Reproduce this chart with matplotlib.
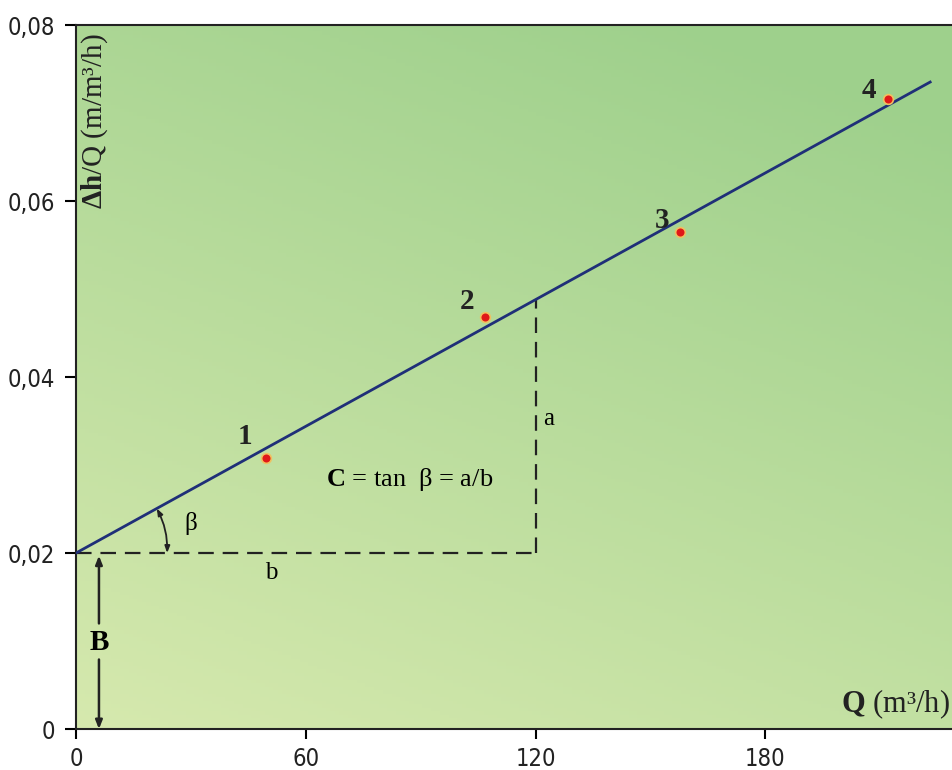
import matplotlib
matplotlib.use("Agg")
import matplotlib.pyplot as plt
import numpy as np

plt.rcParams['mathtext.fontset'] = 'custom'
plt.rcParams['mathtext.rm'] = 'Liberation Serif'
plt.rcParams['mathtext.bf'] = 'Liberation Serif:bold'
plt.rcParams['mathtext.it'] = 'Liberation Serif:italic'

# measured points (Q in m3/h, dh/Q)
q_points = [49.6, 106.8, 157.7, 212.0]
dhq_points = [0.0308, 0.0468, 0.0565, 0.0716]
point_labels = ['1', '2', '3', '4']
label_pos = [(44.0, 0.0332), (102.0, 0.0486), (153.0, 0.0578), (207.0, 0.0726)]

# fitted line dh/Q = B + C*Q
B = 0.02
C = 0.00024
line_q = [0, 223]

x_ticks = [0, 60, 120, 180]
y_ticks = [0, 0.02, 0.04, 0.06, 0.08]
y_ticklabels = ['0', '0,02', '0,04', '0,06', '0,08']

xmax = 228.7
serif = 'Liberation Serif'

fig = plt.figure(figsize=(9.52, 7.7), dpi=100)
ax = fig.add_axes([0.0798, 0.0532, 0.9202, 0.9143])
ax.set_xlim(0, xmax)
ax.set_ylim(0, 0.08)

# green gradient background
ny, nx = 200, 200
yy, xx = np.mgrid[0:1:ny*1j, 0:1:nx*1j]
t = np.clip(0.75 * yy + 0.35 * xx, 0, 1)
c0 = np.array([214, 233, 174]) / 255.0
c1 = np.array([158, 208, 140]) / 255.0
img = c0[None, None, :] * (1 - t[..., None]) + c1[None, None, :] * t[..., None]
ax.imshow(img, extent=[0, xmax, 0, 0.08], origin='lower', aspect='auto', zorder=0)

# fitted line
ax.plot(line_q, [B + C * q for q in line_q], color='#1f2f78', lw=2, zorder=3)

# measured points
ax.plot(q_points, dhq_points, 'o', color='#e01818', markersize=7,
        markeredgecolor='#f0c060', markeredgewidth=1.2, zorder=4)
for lab, (lx, ly) in zip(point_labels, label_pos):
    ax.text(lx, ly, lab, fontsize=21, fontweight='bold', family=serif,
            ha='center', va='center', color='#222222')

# triangle a / b
x_tri = 120
ax.plot([0, x_tri], [B, B], color='#222222', lw=1.6, ls=(0, (7, 4)), zorder=2)
ax.plot([x_tri, x_tri], [B, B + C * x_tri], color='#222222', lw=1.6, ls=(0, (7, 4)), zorder=2)
ax.text(123.5, 0.0352, 'a', fontsize=18, family=serif, ha='center', va='center')
ax.text(51, 0.0177, 'b', fontsize=18, family=serif, ha='center', va='center')
ax.text(87, 0.0283, r'$\mathbf{C}$ = tan  β = a/b', fontsize=19, family=serif,
        ha='center', va='center')

# angle beta
ax.annotate('', xy=(21.1, B + C * 21.1), xytext=(23.8, B),
            arrowprops=dict(arrowstyle='<|-|>,head_length=0.4,head_width=0.15',
                            color='#222222', lw=1.3,
                            connectionstyle='arc3,rad=0.13',
                            shrinkA=0, shrinkB=0))
ax.text(30, 0.0233, 'β', fontsize=18, family=serif, ha='center', va='center')

# intercept B
ax.annotate('', xy=(6, 0.0197), xytext=(6, 0.0120),
            arrowprops=dict(arrowstyle='-|>,head_length=0.5,head_width=0.2',
                            color='#222222', lw=1.8, shrinkA=0, shrinkB=0))
ax.annotate('', xy=(6, 0.0), xytext=(6, 0.0079),
            arrowprops=dict(arrowstyle='-|>,head_length=0.5,head_width=0.2',
                            color='#222222', lw=1.8, shrinkA=0, shrinkB=0))
ax.text(6, 0.0098, r'$\mathbf{B}$', fontsize=21, family=serif, ha='center', va='center')

# axis titles inside the plot
ax.text(0.021, 0.988, r'$\mathbf{\Delta h}$/Q (m/m³/h)', transform=ax.transAxes,
        rotation=90, fontsize=21, family=serif, ha='center', va='top', color='#222222')
ax.text(0.997, 0.012, r'$\mathbf{Q}$ (m³/h)', transform=ax.transAxes,
        fontsize=22, family=serif, ha='right', va='bottom', color='#222222')

# axes styling
ax.spines['right'].set_visible(False)
for s in ['left', 'bottom', 'top']:
    ax.spines[s].set_linewidth(1.5)
    ax.spines[s].set_color('#222222')
ax.set_xticks(x_ticks)
ax.set_xticklabels([str(v) for v in x_ticks])
ax.set_yticks(y_ticks)
ax.set_yticklabels(y_ticklabels)
ax.tick_params(axis='y', length=8, width=1.5, pad=7, direction='out')
ax.tick_params(axis='x', length=7, width=1.5, pad=6, direction='out')
for lab in ax.get_xticklabels() + ax.get_yticklabels():
    lab.set_family('DejaVu Sans')
    lab.set_fontstretch('condensed')
    lab.set_fontsize(17)
    lab.set_color('#222222')

fig.savefig('out.png', dpi=100, facecolor='white')
